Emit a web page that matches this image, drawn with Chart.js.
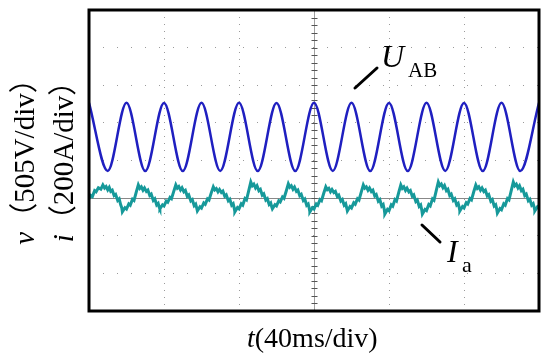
<!DOCTYPE html>
<html>
<head>
<meta charset="utf-8">
<script src="https://cdn.jsdelivr.net/npm/chart.js@4.4.1/dist/chart.umd.min.js"></script>
<style>
  html, body { margin: 0; padding: 0; background: #fff; }
  #wrap { width: 550px; height: 360px; }
</style>
</head>
<body>
<div id="wrap"><canvas id="scope" width="550" height="360"></canvas></div>
<script>
// time base 40 ms/div, 6 divisions
const timeTicks = [0, 40, 80, 120, 160, 200, 240];
// current scale 200 A/div, 8 divisions
const currentTicks = [-600, -400, -200, 0, 200, 400, 600, 800, 1000];

// U_AB: peaks and troughs (ms, V)
const uabT = [0, 10, 20, 30, 40, 50, 60, 70, 80, 90, 100, 110, 120,
  130, 140, 150, 160, 170, 180, 190, 200, 210, 220, 230, 240];
const uabV = [458, -455, 460, -457, 458, -456, 459, -455, 460, -457, 458, -456, 460,
  -455, 459, -457, 458, -456, 460, -455, 458, -457, 459, -456, 460];

// I_a: ripple trace vertices (ms, A)
const iaT = [
  0, 1.0, 1.8, 3.0, 3.8, 5.0, 6.3, 7.4, 8.3, 9.1, 10.0, 10.8, 11.6, 12.4, 13.4, 14.2, 15.3, 16.1, 16.9, 17.5,
  17.8, 19.2, 20.0, 21.2, 22.0, 23.2, 24.0, 25.2, 26.3, 27.1, 27.9, 28.8, 29.6, 30.6, 31.4, 32.4, 33.2, 34.3, 35.1, 36.1, 36.9, 37.5,
  37.8, 39.2, 40.0, 41.2, 42.0, 43.2, 44.0, 45.2, 46.3, 47.1, 47.9, 48.8, 49.6, 50.6, 51.4, 52.4, 53.2, 54.3, 55.1, 56.1, 56.9, 57.5,
  57.8, 59.2, 60.0, 61.2, 62.0, 63.2, 64.0, 65.2, 66.3, 67.1, 67.9, 68.8, 69.6, 70.6, 71.4, 72.4, 73.2, 74.3, 75.1, 76.1, 76.9, 77.5,
  77.8, 79.2, 80.0, 81.2, 82.0, 83.2, 84.0, 85.2, 86.3, 87.1, 87.9, 88.8, 89.6, 90.6, 91.4, 92.4, 93.2, 94.3, 95.1, 96.1, 96.9, 97.5,
  97.8, 99.2, 100.0, 101.2, 102.0, 103.2, 104.0, 105.2, 106.3, 107.1, 107.9, 108.8, 109.6, 110.6, 111.4, 112.4, 113.2, 114.3, 115.1, 116.1, 116.9, 117.5,
  117.8, 119.2, 120.0, 121.2, 122.0, 123.2, 124.0, 125.2, 126.3, 127.1, 127.9, 128.8, 129.6, 130.6, 131.4, 132.4, 133.2, 134.3, 135.1, 136.1, 136.9, 137.5,
  137.8, 139.2, 140.0, 141.2, 142.0, 143.2, 144.0, 145.2, 146.3, 147.1, 147.9, 148.8, 149.6, 150.6, 151.4, 152.4, 153.2, 154.3, 155.1, 156.1, 156.9, 157.5,
  157.8, 159.2, 160.0, 161.2, 162.0, 163.2, 164.0, 165.2, 166.3, 167.1, 167.9, 168.8, 169.6, 170.6, 171.4, 172.4, 173.2, 174.3, 175.1, 176.1, 176.9, 177.5,
  177.8, 179.2, 180.0, 181.2, 182.0, 183.2, 184.0, 185.2, 186.3, 187.1, 187.9, 188.8, 189.6, 190.6, 191.4, 192.4, 193.2, 194.3, 195.1, 196.1, 196.9, 197.5,
  197.8, 199.2, 200.0, 201.2, 202.0, 203.2, 204.0, 205.2, 206.3, 207.1, 207.9, 208.8, 209.6, 210.6, 211.4, 212.4, 213.2, 214.3, 215.1, 216.1, 216.9, 217.5,
  217.8, 219.2, 220.0, 221.2, 222.0, 223.2, 224.0, 225.2, 226.3, 227.1, 227.9, 228.8, 229.6, 230.6, 231.4, 232.4, 233.2, 234.3, 235.1, 236.1, 236.9, 237.5,
  237.8, 239.2, 240.0
];
const iaA = [
  -4, 14, 8, 40, 34, 55, 48, 70, 54, 62, 44, 57, 36, 42, 14, 20, -12, -4, -36, -52,
  -73, -51, -58, -31, -38, -6, -12, 32, 70, 52, 60, 42, 54, 36, 43, 14, 21, -12, -4, -36, -28, -50,
  -57, -36, -42, -16, -22, 4, -3, 36, 70, 53, 61, 43, 55, 34, 41, 10, 17, -15, -8, -40, -32, -55,
  -68, -46, -53, -26, -33, -4, -10, 28, 60, 44, 51, 34, 46, 30, 37, 10, 17, -14, -6, -38, -30, -56,
  -73, -50, -57, -30, -37, -2, -9, 40, 86, 66, 74, 54, 66, 40, 47, 16, 23, -10, -3, -34, -26, -48,
  -57, -35, -41, -14, -20, 6, -1, 38, 76, 58, 66, 47, 59, 36, 43, 13, 20, -13, -5, -38, -31, -56,
  -73, -51, -58, -31, -38, -8, -14, 26, 60, 45, 52, 34, 46, 30, 36, 9, 16, -15, -7, -38, -30, -54,
  -68, -45, -52, -25, -32, -3, -10, 32, 70, 53, 60, 42, 54, 35, 42, 12, 19, -16, -8, -42, -34, -62,
  -84, -60, -67, -36, -43, -8, -15, 30, 70, 52, 60, 41, 53, 33, 40, 10, 17, -18, -10, -44, -36, -64,
  -84, -60, -66, -34, -41, -4, -11, 40, 86, 67, 75, 55, 67, 40, 47, 14, 21, -12, -4, -36, -28, -52,
  -68, -45, -52, -24, -31, -2, -9, 34, 70, 52, 60, 42, 54, 35, 42, 12, 19, -16, -8, -42, -35, -60,
  -79, -55, -62, -30, -37, -2, -9, 40, 86, 66, 74, 54, 66, 40, 47, 14, 21, -14, -6, -38, -30, -52,
  -68, -46, -53
];

const serif = "'Liberation Serif', 'Noto Sans CJK SC', serif";

function drawParts(ctx, parts, x, y) {
  let cx = x;
  for (const [txt, font] of parts) {
    ctx.font = font;
    ctx.fillText(txt, cx, y);
    cx += ctx.measureText(txt).width;
  }
}
function partsWidth(ctx, parts) {
  let w = 0;
  for (const [txt, font] of parts) {
    ctx.font = font;
    w += ctx.measureText(txt).width;
  }
  return w;
}

const scopePlugin = {
  id: "scope",
  beforeDatasetsDraw(chart) {
    const { ctx, chartArea: a, scales } = chart;
    const x = scales.x, y = scales.y;
    ctx.save();
    // current zero reference
    const y0 = Math.round(y.getPixelForValue(0)) + 0.5;
    ctx.strokeStyle = "#888";
    ctx.lineWidth = 1;
    ctx.beginPath();
    ctx.moveTo(a.left, y0);
    ctx.lineTo(a.right, y0);
    ctx.stroke();
    // centre graticule with minor ticks
    const xc = Math.round(x.getPixelForValue(120)) + 0.5;
    ctx.strokeStyle = "#a0a0a0";
    ctx.beginPath();
    ctx.moveTo(xc, a.top);
    ctx.lineTo(xc, a.bottom);
    ctx.stroke();
    const minor = (y.getPixelForValue(0) - y.getPixelForValue(200)) / 5;
    ctx.strokeStyle = "#555";
    ctx.beginPath();
    for (let py = a.top; py <= a.bottom + 0.5; py += minor) {
      ctx.moveTo(xc - 3, Math.round(py) + 0.5);
      ctx.lineTo(xc + 3, Math.round(py) + 0.5);
    }
    ctx.stroke();
    ctx.restore();
  },
  afterDraw(chart) {
    const { ctx, chartArea: a } = chart;
    ctx.save();
    // frame
    ctx.strokeStyle = "#000";
    ctx.lineWidth = 3;
    ctx.strokeRect(a.left, a.top, a.right - a.left, a.bottom - a.top);

    ctx.fillStyle = "#000";
    ctx.textBaseline = "alphabetic";
    ctx.textAlign = "left";

    // trace labels with leaders
    ctx.lineWidth = 3;
    ctx.lineCap = "round";
    ctx.beginPath();
    ctx.moveTo(355, 88); ctx.lineTo(377, 68);
    ctx.moveTo(422, 225); ctx.lineTo(440, 242);
    ctx.stroke();
    drawParts(ctx, [["U", "italic 32px " + serif]], 381, 67);
    drawParts(ctx, [["AB", "21px " + serif]], 408, 77);
    drawParts(ctx, [["I", "italic 32px " + serif]], 447, 262);
    drawParts(ctx, [["a", "22px " + serif]], 462, 272);

    // x axis title
    drawParts(ctx, [["t", "italic 28px " + serif], ["(40ms/div)", "28px " + serif]], 247, 347);

    // y axis titles, rotated
    const yc = (a.top + a.bottom) / 2 - 6;
    const lines = [
      [[["v", "italic 29px " + serif], ["（505V/div）", "29px " + serif]], 34],
      [[["i", "italic 29px " + serif], ["（200A/div）", "29px " + serif]], 73]
    ];
    for (const [parts, bx] of lines) {
      const w = partsWidth(ctx, parts);
      ctx.save();
      ctx.translate(bx, yc);
      ctx.rotate(-Math.PI / 2);
      drawParts(ctx, parts, -w / 2, 0);
      ctx.restore();
    }
    ctx.restore();
  }
};

const data = {
  datasets: [
    {
      label: "UAB",
      data: uabT.map((t, i) => ({ x: t, y: uabV[i] })),
      yAxisID: "yV",
      borderColor: "#1f1fc0",
      borderWidth: 2.5,
      pointRadius: 0,
      cubicInterpolationMode: "monotone",
    },
    {
      label: "Ia",
      data: iaT.map((t, i) => ({ x: t, y: iaA[i] })),
      yAxisID: "y",
      borderColor: "#16999a",
      borderWidth: 3,
      pointRadius: 0,
      tension: 0,
    },
  ],
};

const config = {
  type: "line",
  data: data,
  options: {
    responsive: false,
    animation: false,
    events: [],
    layout: { padding: { left: 89, top: 10, right: 11, bottom: 49 } },
    scales: {
      x: {
        type: "linear",
        min: timeTicks[0],
        max: timeTicks[timeTicks.length - 1],
        afterBuildTicks: (s) => { s.ticks = timeTicks.map((v) => ({ value: v })); },
        ticks: { display: false },
        grid: { color: "#9a9a9a", lineWidth: 1, drawTicks: false },
        border: { display: false, dash: [1, 6] },
      },
      y: {
        min: currentTicks[0],
        max: currentTicks[currentTicks.length - 1],
        afterBuildTicks: (s) => { s.ticks = currentTicks.map((v) => ({ value: v })); },
        ticks: { display: false },
        grid: { color: "#9a9a9a", lineWidth: 1, drawTicks: false },
        border: { display: false, dash: [1, 13] },
      },
      yV: {
        display: false,
        min: -2335,
        max: 1705,
      },
    },
    plugins: {
      legend: { display: false },
      tooltip: { enabled: false },
    },
  },
  plugins: [scopePlugin],
};

const scopeChart = new Chart(document.getElementById("scope").getContext("2d"), config);
</script>
</body>
</html>
